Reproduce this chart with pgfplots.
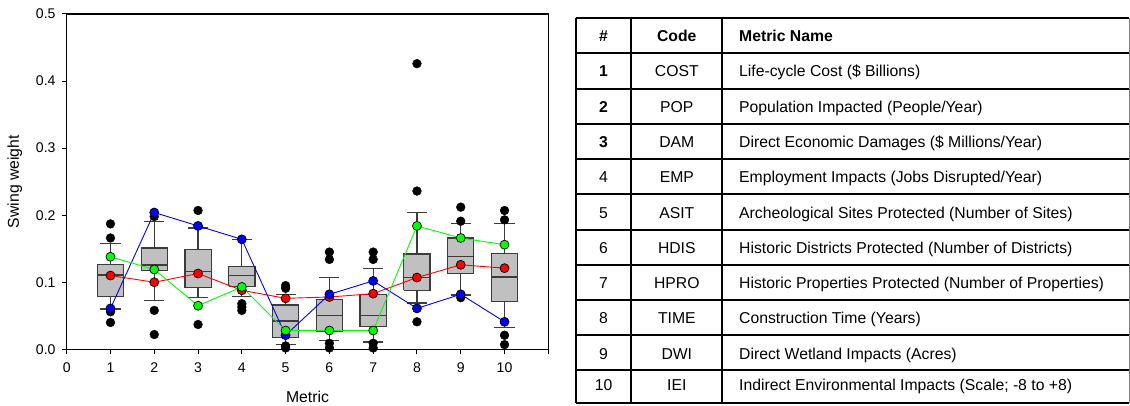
\documentclass[border=0pt]{standalone}
\usepackage{pgfplots}
\pgfplotsset{compat=1.18}
\usepackage{fontspec}
\setmainfont{Liberation Sans}
\definecolor{boxgray}{HTML}{C0C0C0}
\definecolor{boxedge}{HTML}{3C3C3C}
\definecolor{sred}{HTML}{FF0000}
\definecolor{sgreen}{HTML}{00FF00}
\definecolor{sblue}{HTML}{0000FF}
\pgfplotsset{
  bline/.style={draw=boxedge, line width=1.2bp, mark=none},
  series/.style={color=#1, line width=0.9bp, mark=*, mark size=4.5bp,
    mark options={fill=#1, draw=black, line width=0.7bp}},
}
% #1 position, #2 lower whisker, #3 lower quartile, #4 median,
% #5 upper quartile, #6 upper whisker, #7 outliers
\newcommand{\bx}[7]{%
  \pgfmathsetmacro\bxl{#1-0.3}\pgfmathsetmacro\bxr{#1+0.3}%
  \pgfmathsetmacro\bcl{#1-0.23}\pgfmathsetmacro\bcr{#1+0.23}%
  \addplot[bline] coordinates {(#1,#2) (#1,#3)};
  \addplot[bline] coordinates {(#1,#5) (#1,#6)};
  \addplot[bline] coordinates {(\bcl,#2) (\bcr,#2)};
  \addplot[bline] coordinates {(\bcl,#6) (\bcr,#6)};
  \addplot[bline, fill=boxgray] coordinates {(\bxl,#3) (\bxr,#3) (\bxr,#5) (\bxl,#5) (\bxl,#3)};
  \addplot[bline, line width=1.4bp] coordinates {(\bxl,#4) (\bxr,#4)};
  \addplot[only marks, mark=*, mark size=4.4bp, mark options={fill=black, draw=black, line width=0.4bp}] coordinates {#7};
}
\newcommand{\tfont}{\fontsize{15.8}{18}\selectfont}
\newcommand{\trow}[4]{%
  \node[anchor=base, inner sep=0] at (603.5, {405-#1-5.66}) {\tfont #2};
  \node[anchor=base, inner sep=0] at (676.8, {405-#1-5.66}) {\tfont #3};
  \node[anchor=base west, inner sep=0] at (739, {405-#1-5.66}) {\tfont #4};}
\begin{document}
\begin{tikzpicture}[x=1bp,y=1bp]
\useasboundingbox (0,0) rectangle (1130,405);
\begin{axis}[
  at={(66.7bp,55.7bp)}, anchor=south west,
  width=481.6bp, height=335.3bp, scale only axis,
  clip=false,
  xmin=0, xmax=11, ymin=0, ymax=0.5,
  xtick={0,1,2,3,4,5,6,7,8,9,10,11},
  xticklabels={0,1,2,3,4,5,6,7,8,9,10,{}},
  ytick={0,0.1,0.2,0.3,0.4,0.5},
  yticklabels={0.0,0.1,0.2,0.3,0.4,0.5},
  tick align=outside, xtick pos=bottom, ytick pos=left,
  major tick length=4.7bp,
  tick style={black, line width=1bp},
  axis line style={line width=1.2bp, black},
  ticklabel style={font=\fontsize{14.1}{16}\selectfont},
  xticklabel style={yshift=-5bp},
  yticklabel style={xshift=-3bp},
  /pgf/number format/assume math mode=true,
  xlabel={Metric}, ylabel={Swing weight},
  label style={font=\fontsize{15.8}{18}\selectfont},
  xlabel style={at={(axis description cs:0.5,-0.142)}, anchor=center},
  ylabel style={at={(axis description cs:-0.108,0.5)}, anchor=center},
]
\bx{1}{0.060}{0.079}{0.111}{0.127}{0.158}{(1,0.187) (1,0.166) (1,0.056) (1,0.040)}
\bx{2}{0.073}{0.118}{0.126}{0.151}{0.190}{(2,0.198) (2,0.058) (2,0.022)}
\bx{3}{0.077}{0.092}{0.116}{0.149}{0.181}{(3,0.207) (3,0.037)}
\bx{4}{0.079}{0.094}{0.110}{0.124}{0.164}{(4,0.068) (4,0.063) (4,0.058)}
\bx{5}{0.007}{0.018}{0.042}{0.066}{0.082}{(5,0.095) (5,0.091) (5,0.005) (5,0.002)}
\bx{6}{0.013}{0.027}{0.050}{0.074}{0.107}{(6,0.145) (6,0.134) (6,0.009) (6,0.002)}
\bx{7}{0.011}{0.034}{0.050}{0.082}{0.120}{(7,0.145) (7,0.134) (7,0.009) (7,0.002)}
\bx{8}{0.069}{0.088}{0.107}{0.142}{0.204}{(8,0.426) (8,0.236) (8,0.041)}
\bx{9}{0.081}{0.113}{0.138}{0.166}{0.187}{(9,0.212) (9,0.191) (9,0.077)}
\bx{10}{0.033}{0.071}{0.108}{0.143}{0.188}{(10,0.207) (10,0.193) (10,0.021) (10,0.007)}
\addplot[series=sred] coordinates {(1,0.110) (2,0.100) (3,0.113) (4,0.088) (5,0.076) (6,0.078) (7,0.083) (8,0.107) (9,0.126) (10,0.121)};
\addplot[series=sblue] coordinates {(1,0.061) (2,0.204) (3,0.184) (4,0.164) (5,0.021) (6,0.082) (7,0.102) (8,0.061) (9,0.082) (10,0.041)};
\addplot[series=sgreen] coordinates {(1,0.138) (2,0.119) (3,0.065) (4,0.093) (5,0.028) (6,0.028) (7,0.028) (8,0.184) (9,0.166) (10,0.156)};
\end{axis}
% table
\foreach \yy in {18.3,52.7,88.5,123.8,159.1,194.4,229.7,265.0,300.2,335.3,370.3,402.9}
  \draw[line width=2bp, black] (575.7,405-\yy) -- (1129,405-\yy);
\foreach \xx in {575.7,631.3,722.3}
  \draw[line width=2bp, black] (\xx,405-18.3) -- (\xx,405-402.9);
\draw[line width=1bp, gray] (1129,405-18.3) -- (1129,405-402.9);
\trow{36.0}{\textbf{\#}}{\textbf{Code}}{\textbf{Metric Name}}
\trow{71.2}{\textbf{1}}{COST}{Life-cycle Cost (\$ Billions)}
\trow{106.5}{\textbf{2}}{POP}{Population Impacted (People/Year)}
\trow{141.8}{\textbf{3}}{DAM}{Direct Economic Damages (\$ Millions/Year)}
\trow{177.1}{4}{EMP}{Employment Impacts (Jobs Disrupted/Year)}
\trow{212.4}{5}{ASIT}{Archeological Sites Protected (Number of Sites)}
\trow{247.7}{6}{HDIS}{Historic Districts Protected (Number of Districts)}
\trow{283.0}{7}{HPRO}{Historic Properties Protected (Number of Properties)}
\trow{318.2}{8}{TIME}{Construction Time (Years)}
\trow{353.5}{9}{DWI}{Direct Wetland Impacts (Acres)}
\trow{384.5}{10}{IEI}{Indirect Environmental Impacts (Scale; -8 to +8)}
\end{tikzpicture}
\end{document}
